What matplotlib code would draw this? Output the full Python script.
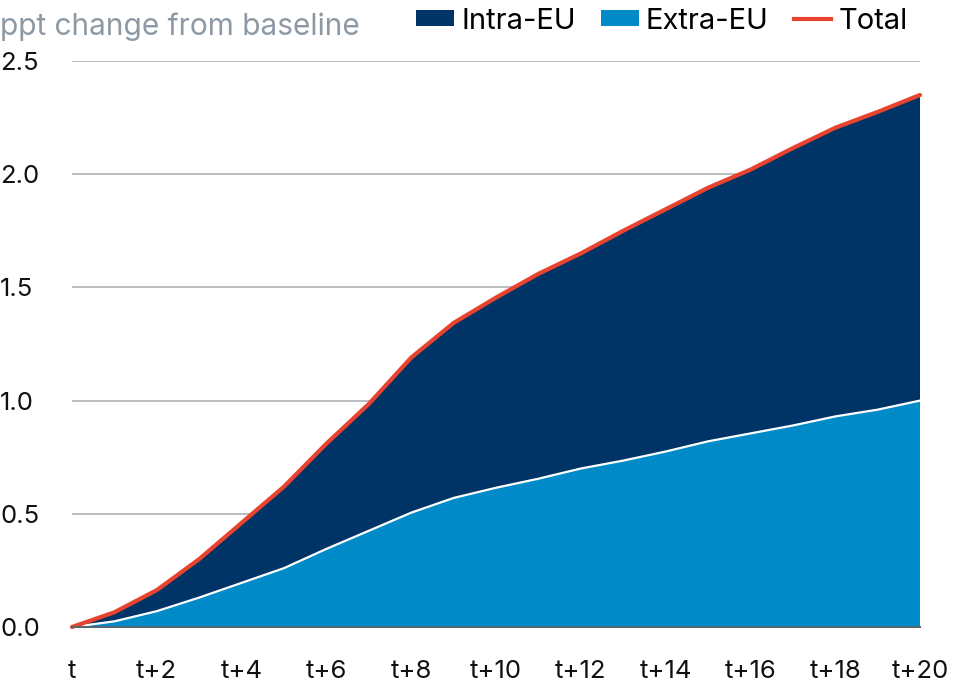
import numpy as np
import matplotlib
matplotlib.use("Agg")
import matplotlib.pyplot as plt
from matplotlib.patches import Patch
from matplotlib.lines import Line2D

plt.rcParams['font.family'] = ['Inter', 'DejaVu Sans']

# horizon t .. t+20
periods = list(range(21))
tick_pos = list(range(0, 21, 2))
tick_labels = ['t'] + ['t+%d' % i for i in range(2, 21, 2)]

extra_eu = [0.0, 0.025, 0.07, 0.13, 0.195, 0.26, 0.345, 0.425, 0.505, 0.57, 0.615,
            0.655, 0.70, 0.735, 0.775, 0.82, 0.855, 0.89, 0.93, 0.96, 1.0]
intra_eu = [0.0, 0.04, 0.093, 0.17, 0.265, 0.36, 0.465, 0.56, 0.685, 0.773, 0.84,
            0.905, 0.95, 1.015, 1.07, 1.12, 1.165, 1.225, 1.275, 1.315, 1.35]
total = np.array(extra_eu) + np.array(intra_eu)

c_intra = '#003366'
c_extra = '#008ac8'
c_total = '#e8432f'

fig = plt.figure(figsize=(9.56, 6.86), dpi=100)
ax = fig.add_axes([72/956, 1-627/686, (920-72)/956, (627-61)/686])

ax.stackplot(periods, extra_eu, intra_eu, colors=[c_extra, c_intra], zorder=2)
ax.plot(periods, extra_eu, color='white', lw=1.6, zorder=3)
ax.plot(periods, total, color=c_total, lw=3, solid_capstyle='round', zorder=4, clip_on=False)

ax.set_xlim(0, 20)
ax.set_ylim(0, 2.5)
ax.set_yticks([0, 0.5, 1.0, 1.5, 2.0, 2.5])
ax.set_yticklabels(['0.0', '0.5', '1.0', '1.5', '2.0', '2.5'])
ax.set_xticks(tick_pos)
ax.set_xticklabels(tick_labels)
ax.grid(axis='y', color='#b9bdc1', lw=1.4, zorder=1)
ax.set_axisbelow(True)

for s in ['top', 'right', 'left']:
    ax.spines[s].set_visible(False)
ax.spines['bottom'].set_color('#54646e')
ax.spines['bottom'].set_linewidth(1.4)
ax.spines['bottom'].set_zorder(5)

ax.tick_params(axis='both', length=0, labelsize=18.5, colors='#111111')
ax.tick_params(axis='y', pad=51.8)
ax.tick_params(axis='x', pad=24)
for lab in ax.get_yticklabels():
    lab.set_horizontalalignment('left')

fig.text(0.0, 1-35/686, 'ppt change from baseline', fontsize=21.5, color='#8d9aa5',
         va='baseline', ha='left')

handles = [Patch(facecolor=c_intra, edgecolor='none', label='Intra-EU'),
           Patch(facecolor=c_extra, edgecolor='none', label='Extra-EU'),
           Line2D([0], [0], color=c_total, lw=3, label='Total')]
fig.legend(handles=handles, loc='upper right', bbox_to_anchor=(0.962, 1.006), ncol=3,
           frameon=False, fontsize=21, handlelength=1.3, handleheight=0.45,
           handletextpad=0.25, columnspacing=0.85, borderaxespad=0)

fig.savefig('out.png', dpi=100)
